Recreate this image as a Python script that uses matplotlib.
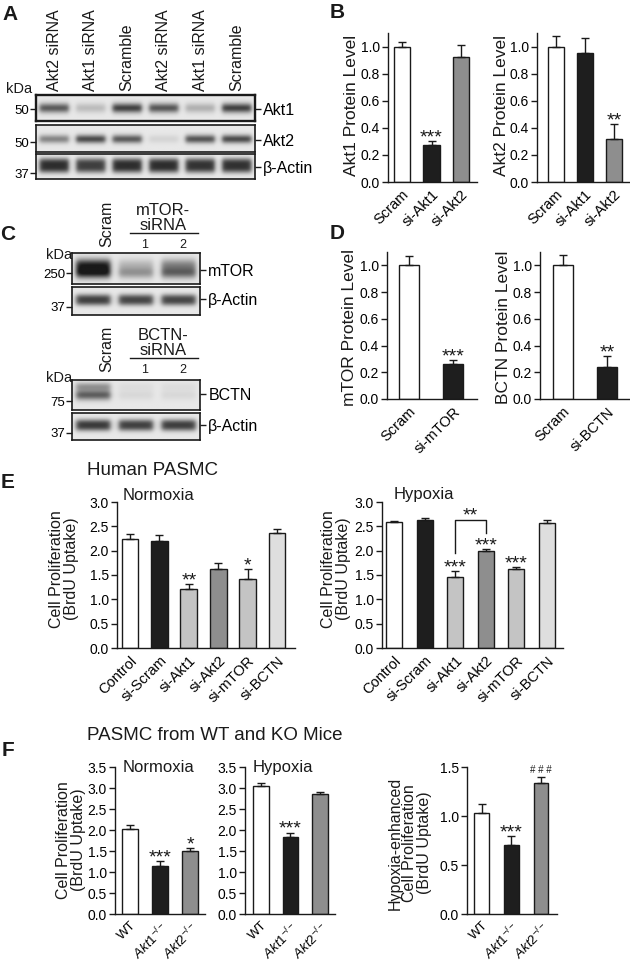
import numpy as np
import matplotlib
matplotlib.use('Agg')
import matplotlib.pyplot as plt
from matplotlib.lines import Line2D

plt.rcParams['font.family'] = ['Liberation Sans', 'DejaVu Sans']
plt.rcParams['mathtext.fontset'] = 'custom'
plt.rcParams['mathtext.rm'] = 'Liberation Sans'
plt.rcParams['mathtext.it'] = 'Liberation Sans:italic'
plt.rcParams['text.color'] = '#1a1a1a'

W, H = 630, 963
INK = '#1a1a1a'

# ---------------- data ----------------
# A: western blot band darkness per lane
lanes_a = ['Akt2 siRNA', 'Akt1 siRNA', 'Scramble', 'Akt2 siRNA', 'Akt1 siRNA', 'Scramble']
akt1_band = [0.72, 0.22, 0.85, 0.74, 0.28, 0.85]
akt2_band = [0.50, 0.80, 0.72, 0.10, 0.75, 0.80]
actin_a_band = [0.95, 0.86, 0.95, 0.95, 0.92, 0.93]

# C: mTOR / BCTN knockdown blots (Scram, siRNA 1, siRNA 2)
mtor_band_up = [0.90, 0.22, 0.45]
mtor_band_low = [0.95, 0.40, 0.62]
actin_c1_band = [0.85, 0.82, 0.82]
bctn_band_low = [0.70, 0.08, 0.08]
bctn_band_up = [0.40, 0.05, 0.05]
actin_c2_band = [0.88, 0.85, 0.86]

# B: protein levels
b_labels = ['Scram', 'si-Akt1', 'si-Akt2']
akt1_level = [1.00, 0.27, 0.92]
akt1_err = [0.03, 0.03, 0.09]
akt1_sig = ['', '***', '']
akt2_level = [1.00, 0.95, 0.32]
akt2_err = [0.08, 0.11, 0.11]
akt2_sig = ['', '', '**']

# D: protein levels
d_labels_mtor = ['Scram', 'si-mTOR']
mtor_level = [1.00, 0.26]
mtor_err = [0.07, 0.03]
mtor_sig = ['', '***']
d_labels_bctn = ['Scram', 'si-BCTN']
bctn_level = [1.00, 0.24]
bctn_err = [0.08, 0.08]
bctn_sig = ['', '**']

# E: human PASMC proliferation
e_labels = ['Control', 'si-Scram', 'si-Akt1', 'si-Akt2', 'si-mTOR', 'si-BCTN']
e_norm = [2.25, 2.20, 1.22, 1.63, 1.42, 2.37]
e_norm_err = [0.10, 0.12, 0.10, 0.12, 0.20, 0.08]
e_norm_sig = ['', '', '**', '', '*', '']
e_hyp = [2.58, 2.64, 1.45, 1.99, 1.62, 2.56]
e_hyp_err = [0.02, 0.04, 0.13, 0.04, 0.05, 0.07]
e_hyp_sig = ['', '', '***', '***', '***', '']
e_bracket = (2, 3, 2.64, 1.95, 2.36)   # from, to, top, left end, right end

# F: mouse PASMC proliferation
f_labels = ['WT', r'$\mathit{Akt1}^{-/-}$', r'$\mathit{Akt2}^{-/-}$']
f_norm = [2.02, 1.14, 1.51]
f_norm_err = [0.10, 0.12, 0.07]
f_norm_sig = ['', '***', '*']
f_hyp = [3.05, 1.84, 2.85]
f_hyp_err = [0.08, 0.10, 0.05]
f_hyp_sig = ['', '***', '']
f_enh = [1.03, 0.70, 1.34]
f_enh_err = [0.09, 0.10, 0.06]
f_enh_sig = ['', '***', '# # #']

C_WHITE, C_BLACK, C_GRAY = 'white', '#1e1e1e', '#8e8e8e'
C_LIGHT, C_LIGHTER = '#c4c4c4', '#dedede'

fig = plt.figure(figsize=(W / 100, H / 100), dpi=100)


def px_rect(left, top, right, bottom):
    return [left / W, 1 - bottom / H, (right - left) / W, (bottom - top) / H]


def ptext(x, y, s, **kw):
    return fig.text(x / W, 1 - y / H, s, **kw)


def pline(xs, ys, **kw):
    fig.add_artist(Line2D([x / W for x in xs], [1 - y / H for y in ys],
                          transform=fig.transFigure, color=INK, lw=1.0, **kw))


def blot(rect, bands, marker, ym, label, yr, lw=1.2, bg=0.91):
    """bands: list of (levels, y centre, sigma, power); y measured from top (0..1)."""
    n = len(bands[0][0])
    per = 40
    x = (np.arange(n * per) + 0.5) / per
    y = (np.arange(80) + 0.5) / 80
    img = np.full((len(y), len(x)), bg)
    for levels, yc, sig, pw in bands:
        for i, lev in enumerate(levels):
            xp = 1 / (1 + np.exp((np.abs(x - (i + 0.5)) - 0.40) / 0.035))
            yp = np.exp(-0.5 * np.abs((y - yc) / sig) ** pw)
            img -= lev * (bg - 0.14) * np.outer(yp, xp)
    img = np.clip(img, 0.1, 1)
    ax = fig.add_axes(px_rect(*rect))
    ax.imshow(img, cmap='gray', vmin=0, vmax=1, aspect='auto',
              extent=(0, n, 1, 0), interpolation='bilinear')
    ax.set_xlim(0, n)
    ax.set_ylim(1, 0)
    ax.set_xticks([])
    ax.set_yticks([ym])
    ax.set_yticklabels([marker])
    ax.tick_params(axis='y', length=4, width=1, labelsize=9.5, pad=1, color=INK)
    for s in ax.spines.values():
        s.set_linewidth(lw)
        s.set_color(INK)
    sec = ax.secondary_yaxis('right')
    sec.set_yticks([yr])
    sec.set_yticklabels([label])
    sec.tick_params(length=4, width=1, labelsize=11.5, pad=2, color=INK)
    sec.spines['right'].set_visible(False)
    return ax


def mark(ax, x, y, s):
    # significance marks sit just above the error bar
    if s.startswith('#'):
        ax.annotate(s, (x, y), xytext=(0, 2.5), textcoords='offset points',
                    ha='center', va='baseline', fontsize=7)
    else:
        ax.annotate(s, (x, y), xytext=(0, -1.0), textcoords='offset points',
                    ha='center', va='baseline', fontsize=14)


def bars(rect, means, errs, colors, labels, ylim, yticks, xlim, width, sig=None,
         label_size=10.5):
    ax = fig.add_axes(px_rect(*rect))
    x = np.arange(len(means))
    ax.bar(x, means, width, color=colors, edgecolor=INK, linewidth=1.0, zorder=2)
    ax.errorbar(x, means, yerr=[np.zeros(len(errs)), errs], fmt='none',
                ecolor=INK, elinewidth=1.0, capsize=3, capthick=1.0, zorder=3)
    ax.set_xlim(*xlim)
    ax.set_ylim(*ylim)
    ax.set_yticks(yticks)
    ax.set_yticklabels([f'{t:.1f}' for t in yticks])
    ax.set_xticks(x)
    ax.set_xticklabels(labels, rotation=45, ha='right', rotation_mode='anchor')
    for s in ['top', 'right']:
        ax.spines[s].set_visible(False)
    for s in ['left', 'bottom']:
        ax.spines[s].set_linewidth(1.0)
        ax.spines[s].set_color(INK)
    ax.tick_params(axis='y', direction='out', length=4, width=1, labelsize=10,
                   pad=2, color=INK)
    ax.tick_params(axis='x', length=0, labelsize=label_size, pad=4)
    ax.patch.set_alpha(0)
    if sig:
        for i, s in enumerate(sig):
            if s:
                mark(ax, i, means[i] + errs[i], s)
    return ax


# ---------------- panel letters ----------------
for letter, (lx, ly) in zip('ABCDEF', [(10, 14), (337, 13), (8, 234), (337, 233),
                                      (8, 483), (8, 750)]):
    ptext(lx, ly, letter, fontsize=15, fontweight='bold', ha='center', va='center')

# ---------------- A ----------------
ax_a1 = blot((36, 95, 255, 121), [(akt1_band, 0.50, 0.13, 2)], '50', 0.54, 'Akt1', 0.54, lw=1.7)
blot((36, 125, 255, 152), [(akt2_band, 0.52, 0.11, 2)], '50', 0.63, 'Akt2', 0.56)
blot((36, 154, 255, 179), [(actin_a_band, 0.46, 0.23, 3)], '37', 0.76, 'β-Actin', 0.52)
for i, lab in enumerate(lanes_a):
    ax_a1.annotate(lab, (i + 0.5, 0), xytext=(0, 3), textcoords='offset points',
                   rotation=90, ha='center', va='bottom', fontsize=11.5)
ptext(32, 89, 'kDa', fontsize=10.5, ha='right', va='center')

# ---------------- C ----------------
blot((72, 253, 200, 284), [(mtor_band_up, 0.38, 0.14, 2), (mtor_band_low, 0.64, 0.13, 2)],
     '250', 0.65, 'mTOR', 0.55)
blot((72, 287, 200, 315), [(actin_c1_band, 0.46, 0.15, 2.5)], '37', 0.71, 'β-Actin', 0.43)
blot((72, 380, 200, 410), [(bctn_band_low, 0.50, 0.12, 2), (bctn_band_up, 0.22, 0.10, 2)],
     '75', 0.70, 'BCTN', 0.47)
blot((72, 413, 200, 440), [(actin_c2_band, 0.45, 0.16, 2.5)], '37', 0.74, 'β-Actin', 0.44)
for dy, name in [(0, 'mTOR-\nsiRNA'), (125, 'BCTN-\nsiRNA')]:
    ptext(107, 247 + dy, 'Scram', rotation=90, ha='center', va='bottom', fontsize=11.5)
    ptext(163, 218 + dy, name, ha='center', va='center', fontsize=12, linespacing=0.95)
    pline([130, 198], [233 + dy, 233 + dy])
    ptext(145, 245 + dy, '1', ha='center', va='center', fontsize=9)
    ptext(183, 245 + dy, '2', ha='center', va='center', fontsize=9)
ptext(72, 255, 'kDa', fontsize=10.5, ha='right', va='center')
ptext(72, 378, 'kDa', fontsize=10.5, ha='right', va='center')

# ---------------- B ----------------
bars((388, 33, 477, 182), akt1_level, akt1_err, [C_WHITE, C_BLACK, C_GRAY], b_labels,
     (0, 1.1), np.arange(0, 1.01, 0.2), (-0.475, 2.54), 0.57, akt1_sig)
bars((537, 33, 630, 182), akt2_level, akt2_err, [C_WHITE, C_BLACK, C_GRAY], b_labels,
     (0, 1.1), np.arange(0, 1.01, 0.2), (-0.655, 2.55), 0.57, akt2_sig)
ptext(352, 105, 'Akt1 Protein Level', rotation=90, ha='center', va='center', fontsize=12.5)
ptext(502, 105, 'Akt2 Protein Level', rotation=90, ha='center', va='center', fontsize=12.5)

# ---------------- D ----------------
bars((387, 252, 477, 399), mtor_level, mtor_err, [C_WHITE, C_BLACK], d_labels_mtor,
     (0, 1.1), np.arange(0, 1.01, 0.2), (-0.5, 1.55), 0.45, mtor_sig)
bars((540, 252, 630, 399), bctn_level, bctn_err, [C_WHITE, C_BLACK], d_labels_bctn,
     (0, 1.1), np.arange(0, 1.01, 0.2), (-0.52, 1.52), 0.45, bctn_sig)
ptext(350, 327, 'mTOR Protein Level', rotation=90, ha='center', va='center', fontsize=12.5)
ptext(504, 327, 'BCTN Protein Level', rotation=90, ha='center', va='center', fontsize=12.5)

# ---------------- E ----------------
e_colors = [C_WHITE, C_BLACK, C_LIGHT, C_GRAY, C_LIGHT, C_LIGHTER]
ptext(87, 470, 'Human PASMC', ha='left', va='center', fontsize=13.5)
bars((117, 502, 295, 648), e_norm, e_norm_err, e_colors, e_labels,
     (0, 3.0), np.arange(0, 3.01, 0.5), (-0.44, 5.61), 0.57, e_norm_sig)
ax_eh = bars((382, 502, 563, 648), e_hyp, e_hyp_err, e_colors, e_labels,
             (0, 3.0), np.arange(0, 3.01, 0.5), (-0.39, 5.52), 0.52, e_hyp_sig)
b0, b1, btop, bl, br = e_bracket
ax_eh.plot([b0, b0, b1, b1], [bl, btop, btop, br], color=INK, lw=1.0, clip_on=False)
mark(ax_eh, (b0 + b1) / 2, btop, '**')
ptext(159, 495, 'Normoxia', ha='center', va='center', fontsize=12)
ptext(424, 495, 'Hypoxia', ha='center', va='center', fontsize=12)
ylab = 'Cell Proliferation\n(BrdU Uptake)'
ptext(64, 569, ylab, rotation=90, ha='center', va='center', fontsize=11.5, linespacing=1.0)
ptext(336, 569, ylab, rotation=90, ha='center', va='center', fontsize=11.5, linespacing=1.0)

# ---------------- F ----------------
f_colors = [C_WHITE, C_BLACK, C_GRAY]
ptext(87, 735, 'PASMC from WT and KO Mice', ha='left', va='center', fontsize=13.5)
bars((115, 767, 205, 914), f_norm, f_norm_err, f_colors, f_labels,
     (0, 3.5), np.arange(0, 3.51, 0.5), (-0.5, 2.5), 0.53, f_norm_sig, label_size=9.5)
bars((245, 767, 335, 914), f_hyp, f_hyp_err, f_colors, f_labels,
     (0, 3.5), np.arange(0, 3.51, 0.5), (-0.53, 2.5), 0.53, f_hyp_sig, label_size=9.5)
bars((467, 767, 557, 914), f_enh, f_enh_err, f_colors, f_labels,
     (0, 1.5), np.arange(0, 1.51, 0.5), (-0.5, 2.54), 0.5, f_enh_sig, label_size=9.5)
ptext(158, 767, 'Normoxia', ha='center', va='center', fontsize=12)
ptext(283, 767, 'Hypoxia', ha='center', va='center', fontsize=12)
ptext(71, 840, ylab, rotation=90, ha='center', va='center', fontsize=11.5, linespacing=1.0)
ptext(410, 843, 'Hypoxia-enhanced\n' + ylab, rotation=90, ha='center', va='center',
      fontsize=11.5, linespacing=1.0)

fig.savefig('out.png', dpi=100, facecolor='white')
